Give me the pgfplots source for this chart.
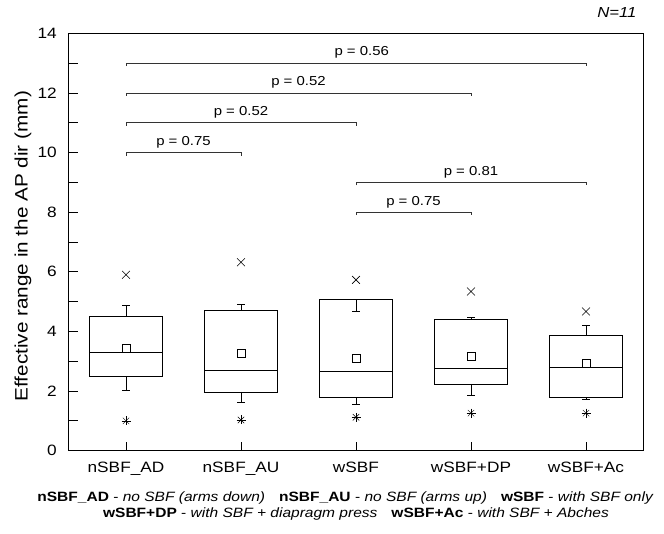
\documentclass[border=0pt]{standalone}
\usepackage{fontspec}
\setmainfont{Liberation Sans}[FakeStretch=1.15]
\usepackage{pgfplots}
\usepgfplotslibrary{statistics}
\pgfplotsset{compat=1.18}
\begin{document}
\begin{tikzpicture}[x=1pt,y=1pt]
\useasboundingbox (0,0) rectangle (664,533);
\fill[white] (0,0) rectangle (664,533);
\begin{axis}[
  at={(68.5pt,82.3pt)}, anchor=south west,
  scale only axis, width=575pt, height=417.4pt,
  xmin=-0.5, xmax=4.5, ymin=0, ymax=14,
  xtick={0,1,2,3,4},
  xticklabels={nSBF\_AD,nSBF\_AU,wSBF,wSBF+DP,wSBF+Ac},
  ytick={0,2,...,14}, minor ytick={1,3,...,13},
  tick align=inside, tick pos=left,
  major tick length=9pt, minor tick length=9pt,
  every tick/.style={black, line width=0.8pt},
  axis line style={black, line width=1pt},
  /pgf/number format/assume math mode=true,
  ticklabel style={font=\fontsize{15}{17}\selectfont},
  xticklabel style={anchor=base, yshift=-22pt},
  yticklabel style={anchor=east, inner sep=0pt, xshift=-11.5pt},
  ylabel={Effective range in the AP dir (mm)},
  ylabel style={font=\fontsize{18}{20}\selectfont, at={(axis description cs:-0.0791,0.49)}, anchor=center},
  boxplot/draw direction=y,
  clip=false,
]
% box plots
\addplot[black, line width=0.8pt, boxplot prepared={draw position=0, lower whisker=2.01, lower quartile=2.48, median=3.30, upper quartile=4.50, upper whisker=4.87, box extend=0.64, whisker extend=0.067}] coordinates {};
\addplot[black, line width=0.8pt, boxplot prepared={draw position=1, lower whisker=1.63, lower quartile=1.97, median=2.71, upper quartile=4.72, upper whisker=4.91, box extend=0.64, whisker extend=0.067}] coordinates {};
\addplot[black, line width=0.8pt, boxplot prepared={draw position=2, lower whisker=1.56, lower quartile=1.79, median=2.65, upper quartile=5.06, upper whisker=4.67, box extend=0.64, whisker extend=0.067}] coordinates {};
\addplot[black, line width=0.8pt, boxplot prepared={draw position=3, lower whisker=1.84, lower quartile=2.24, median=2.77, upper quartile=4.41, upper whisker=4.48, box extend=0.64, whisker extend=0.067}] coordinates {};
\addplot[black, line width=0.8pt, boxplot prepared={draw position=4, lower whisker=1.71, lower quartile=1.80, median=2.80, upper quartile=3.86, upper whisker=4.20, box extend=0.64, whisker extend=0.067}] coordinates {};
% means
\addplot[only marks, mark=square, mark size=3.8pt, black, line width=0.6pt] coordinates {(0,3.44)(1,3.27)(2,3.10)(3,3.16)(4,2.94)};
% maxima
\addplot[only marks, mark=x, mark size=5.5pt, black, line width=0.6pt] coordinates {(0,5.90)(1,6.32)(2,5.73)(3,5.34)(4,4.67)};
% minima
\addplot[only marks, mark=+, mark size=4.5pt, black, line width=0.5pt] coordinates {(0,1.00)(1,1.03)(2,1.12)(3,1.26)(4,1.26)};
\addplot[only marks, mark=x, mark size=4.5pt, black, line width=0.5pt] coordinates {(0,1.00)(1,1.03)(2,1.12)(3,1.26)(4,1.26)};
% significance brackets
\addplot[black!80, line width=0.6pt] coordinates {(0,12.9)(0,13)(4,13)(4,12.9)};
\addplot[black!80, line width=0.6pt] coordinates {(0,11.9)(0,12)(3,12)(3,11.9)};
\addplot[black!80, line width=0.6pt] coordinates {(0,10.9)(0,11)(2,11)(2,10.9)};
\addplot[black!80, line width=0.6pt] coordinates {(0,9.9)(0,10)(1,10)(1,9.9)};
\addplot[black!80, line width=0.6pt] coordinates {(2,8.9)(2,9)(4,9)(4,8.9)};
\addplot[black!80, line width=0.6pt] coordinates {(2,7.9)(2,8)(3,8)(3,7.9)};
\node[anchor=base, font=\fontsize{13}{14}\selectfont] at (axis cs:2.05,13.24) {p = 0.56};
\node[anchor=base, font=\fontsize{13}{14}\selectfont] at (axis cs:1.5,12.24) {p = 0.52};
\node[anchor=base, font=\fontsize{13}{14}\selectfont] at (axis cs:1,11.24) {p = 0.52};
\node[anchor=base, font=\fontsize{13}{14}\selectfont] at (axis cs:0.5,10.24) {p = 0.75};
\node[anchor=base, font=\fontsize{13}{14}\selectfont] at (axis cs:3,9.24) {p = 0.81};
\node[anchor=base, font=\fontsize{13}{14}\selectfont] at (axis cs:2.5,8.24) {p = 0.75};
\end{axis}
\node[anchor=base east, font=\itshape\fontsize{14.5}{16}\selectfont] at (640,515) {N=11};
\node[anchor=base, font=\fontsize{13.5}{16}\selectfont] at (345.5,32) {\textbf{nSBF\_AD} - \textit{no SBF (arms down)}\hspace{14pt}\textbf{nSBF\_AU} - \textit{no SBF (arms up)}\hspace{14pt}\textbf{wSBF} - \textit{with SBF only}};
\node[anchor=base, font=\fontsize{13.5}{16}\selectfont] at (356,16) {\textbf{wSBF+DP} - \textit{with SBF + diapragm press}\hspace{14pt}\textbf{wSBF+Ac} - \textit{with SBF + Abches}};
\end{tikzpicture}
\end{document}
